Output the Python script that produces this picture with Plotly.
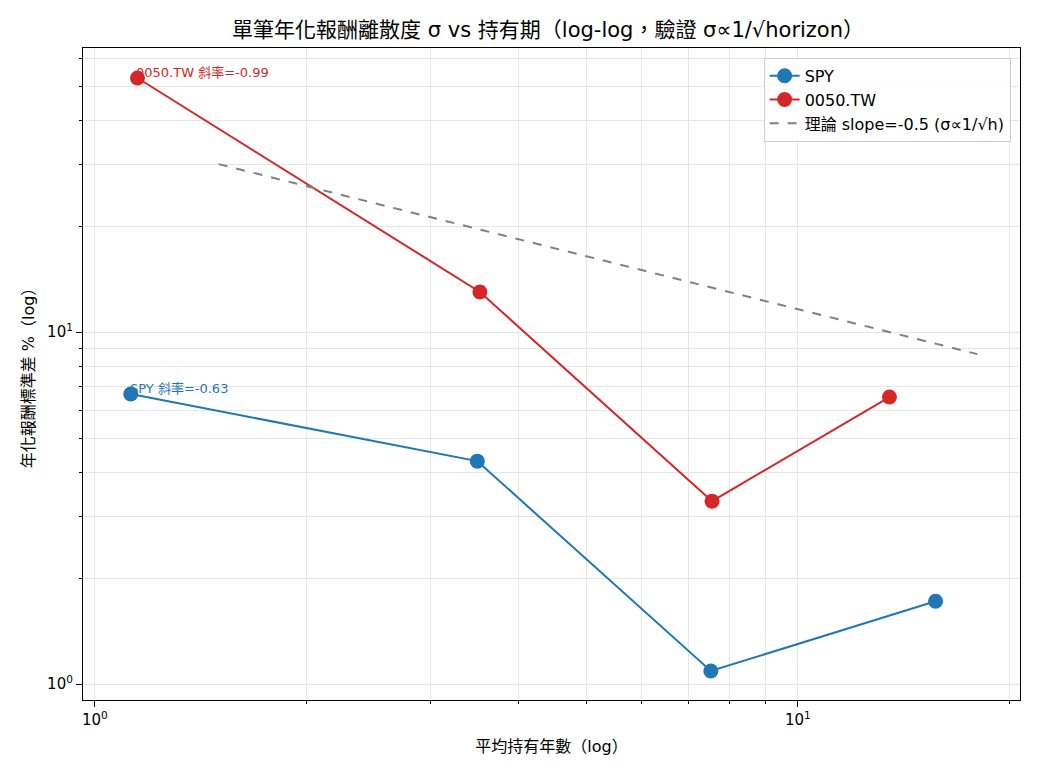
import plotly.graph_objects as go
import math

# Data
spy_x = [1.125, 3.5, 7.52, 15.7]
spy_y = [6.67, 4.3, 1.09, 1.72]
tw_x = [1.15, 3.53, 7.55, 13.5]
tw_y = [52.7, 13.0, 3.31, 6.54]
theory_x = [1.5, 18.0]
theory_y = [30.0, 8.66]
spy_slope = -0.63
tw_slope = -0.99
tick_vals = [1, 10]
tick_text = ["10<sup>0</sup>", "10<sup>1</sup>"]

FONT = "'DejaVu Sans', 'Noto Sans CJK TC', sans-serif"
BLUE = "#1f77b4"
RED = "#d62728"

fig = go.Figure()
fig.add_trace(go.Scatter(x=spy_x, y=spy_y, mode="lines+markers", name="SPY",
                         line=dict(color=BLUE, width=2), marker=dict(size=15, color=BLUE)))
fig.add_trace(go.Scatter(x=tw_x, y=tw_y, mode="lines+markers", name="0050.TW",
                         line=dict(color=RED, width=2), marker=dict(size=15, color=RED)))
fig.add_trace(go.Scatter(x=theory_x, y=theory_y, mode="lines",
                         name="理論 slope=-0.5 (σ∝1/√h)",
                         line=dict(color="gray", width=2, dash="dash")))

fig.add_annotation(x=math.log10(tw_x[0]), y=math.log10(tw_y[0]), xref="x", yref="y",
                   text=f"0050.TW 斜率={tw_slope:.2f}", showarrow=False,
                   xanchor="left", yanchor="bottom", yshift=-4, xshift=-3,
                   font=dict(color=RED, size=13, family=FONT))
fig.add_annotation(x=math.log10(spy_x[0]), y=math.log10(spy_y[0]), xref="x", yref="y",
                   text=f"SPY 斜率={spy_slope:.2f}", showarrow=False,
                   xanchor="left", yanchor="bottom", yshift=-4, xshift=-3,
                   font=dict(color=BLUE, size=13, family=FONT))

axis_common = dict(type="log", showline=True, linecolor="black", linewidth=1.2, mirror=True,
                   ticks="outside", ticklen=6, tickcolor="black",
                   showgrid=True, gridcolor="#e6e6e6", gridwidth=1,
                   tickvals=tick_vals, ticktext=tick_text,
                   tickfont=dict(size=15, family=FONT, color="black"),
                   minor=dict(ticks="outside", ticklen=3, tickcolor="black",
                              showgrid=True, gridcolor="#e6e6e6", gridwidth=1, dtick="D1"),
                   zeroline=False)

fig.update_xaxes(**axis_common, range=[-0.0168, 1.316],
                 title=dict(text="平均持有年數（log）", font=dict(size=16, family=FONT, color="black"), standoff=12))
fig.update_yaxes(**axis_common, range=[-0.045, 1.807],
                 title=dict(text="年化報酬標準差 %（log）", font=dict(size=16, family=FONT, color="black"), standoff=8))

fig.update_layout(
    width=1040, height=780,
    margin=dict(l=83, r=20, t=48, b=80),
    paper_bgcolor="white", plot_bgcolor="white",
    title=dict(text="單筆年化報酬離散度 σ vs 持有期（log-log，驗證 σ∝1/√horizon）",
               x=0.527, xanchor="center", y=0.962, yanchor="middle",
               font=dict(size=21, family=FONT, color="black")),
    font=dict(family=FONT, color="black"),
    legend=dict(x=0.99, y=0.985, xanchor="right", yanchor="top",
                bgcolor="rgba(255,255,255,0.85)", bordercolor="#cccccc", borderwidth=1,
                font=dict(size=16, family=FONT, color="black")),
    showlegend=True,
)

fig.write_html("out.html")
